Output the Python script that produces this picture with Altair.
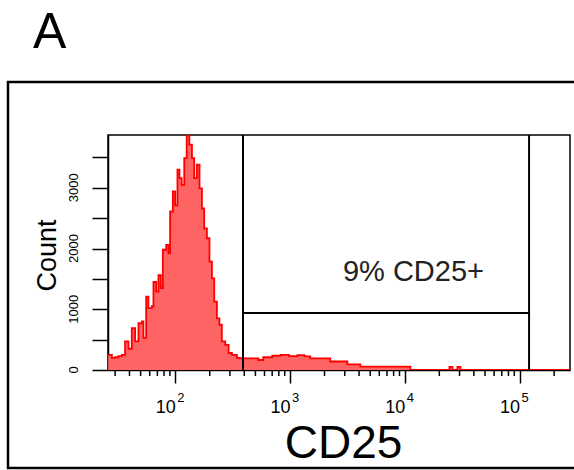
import altair as alt
import pandas as pd

# Histogram (step start positions on CD25 axis, counts)
cd25 = [26.1, 28.1, 30.0, 32.1, 34.3, 36.6, 39.2, 41.9, 44.8, 47.9,
        51.3, 52.9, 55.9, 58.5, 62.6, 64.7, 68.3, 71.5, 75.0, 78.1,
        83.5, 87.5, 90.4, 95.5, 100, 104.7, 109, 114, 120, 126,
        133, 140, 146.5, 154.5, 163, 171, 179, 189, 199, 209,
        219, 231, 243, 255, 273, 292, 312, 345, 369, 530,
        585, 701, 830, 980, 1160, 1340, 1503, 2245, 3160, 4105,
        11200, 24500, 26000, 28750, 30560, 275000]
counts = [250, 200, 210, 230, 250, 470, 350, 690, 470, 770,
          800, 530, 1210, 1020, 1050, 1450, 1290, 1560, 1350, 1980,
          2060, 1920, 2610, 2940, 2710, 3300, 3160, 3050, 3490, 3870,
          3710, 3490, 3160, 3380, 2990, 2660, 2330, 2170, 1785, 1510,
          1125, 850, 745, 470, 415, 280, 250, 200, 190, 165,
          210, 235, 250, 230, 245, 225, 190, 140, 93, 55,
          0, 50, 0, 50, 0, 0]

x_major = [100, 1000, 10000, 100000]
x_exponents = ["2", "3", "4", "5"]
x_minor = [30, 40, 50, 60, 70, 80, 90,
           200, 300, 400, 500, 600, 700, 800, 900,
           2000, 3000, 4000, 5000, 6000, 7000, 8000, 9000,
           20000, 30000, 40000, 50000, 60000, 70000, 80000, 90000,
           200000]
y_ticks = [0, 500, 1000, 1500, 2000, 2500, 3000, 3500]
y_labels = [0, 1000, 2000, 3000]

x_domain = [26, 275000]
y_domain = [0, 3870]

gate_low = 390
gate_high = 121000
gate_count = 940
gate_label = "9% CD25+"
label_x = 11900
label_y = 1615

panel_letter = "A"

W, H = 462, 235

hist = pd.DataFrame({"v": cd25, "c": counts})
xs = alt.Scale(type="log", domain=x_domain, nice=False)
ys = alt.Scale(domain=y_domain, nice=False, zero=True)

x_axis = alt.Axis(values=x_major, labelExpr="'10'", tickSize=13, tickWidth=1.5,
                  tickColor="black", domainColor="black", domainWidth=1.5,
                  labelFontSize=18, labelColor="black", labelPadding=15, labelFlush=False,
                  labelAlign="right",
                  labelOverlap=False, labelFont="Liberation Sans", grid=False,
                  title="CD25", titleFontSize=46, titleFontWeight="normal", titleFont="Liberation Sans",
                  titleColor="black", titleX=235, titleY=87, titleAlign="center",
                  titleBaseline="alphabetic")
y_axis = alt.Axis(values=y_ticks, labels=False,
                  tickSize=16, tickWidth=1.5, tickColor="black", domainColor="black",
                  domainWidth=1.5, grid=False,
                  title="Count", titleFontSize=27, titleFontWeight="normal", titleFont="Liberation Sans",
                  titleColor="black", titleAngle=270, titleX=-53, titleY=120, titleAlign="center",
                  titleBaseline="alphabetic")


def X(field):
    return alt.X(field, type="quantitative", scale=xs, axis=x_axis, title="CD25")


def Y(field):
    return alt.Y(field, type="quantitative", scale=ys, axis=y_axis, title="Count")


area = alt.Chart(hist).mark_area(interpolate="step-after", color="#FF6464", clip=True).encode(
    x=X("v"), y=Y("c"),
)
outline = alt.Chart(hist).mark_line(interpolate="step-after", color="#FF0000", strokeWidth=1.8, clip=True).encode(
    x=X("v"), y=Y("c"),
)

minor = alt.Chart(pd.DataFrame({"v": x_minor})).mark_rule(color="black", strokeWidth=1.5).encode(
    x=X("v"),
    y=alt.value(H),
    y2=alt.value(H + 6),
)

exps = alt.Chart(pd.DataFrame({"v": x_major, "e": x_exponents})).mark_text(
    fontSize=13, font="Liberation Sans", color="black", align="left", baseline="top", dx=2
).encode(x=X("v"), y=alt.value(H + 22), text="e:N")

# y tick labels, rotated, drawn as text through the y scale
ylab = alt.Chart(pd.DataFrame({"c": y_labels, "t": [str(v) for v in y_labels]})).mark_text(
    fontSize=13, font="Liberation Sans", color="black", align="center", baseline="middle", angle=270
).encode(x=alt.value(-34), y=Y("c"), text="t:N")

gates = pd.DataFrame({
    "v": [gate_low, gate_low, gate_high],
    "v2": [gate_low, gate_high, gate_high],
    "c": [y_domain[0], gate_count, y_domain[0]],
    "c2": [y_domain[1], gate_count, y_domain[1]],
})
gate_rules = alt.Chart(gates).mark_rule(color="black", strokeWidth=2).encode(
    x=X("v"), x2="v2:Q",
    y=Y("c"), y2="c2:Q",
)

gate_text = alt.Chart(pd.DataFrame({"v": [label_x], "c": [label_y], "t": [gate_label]})).mark_text(
    fontSize=29, font="Liberation Sans", color="#222222", align="center", baseline="middle"
).encode(
    x=X("v"), y=Y("c"),
    text="t:N",
)

frame = alt.Chart(pd.DataFrame({"k": [1]})).mark_rect(
    fillOpacity=0, stroke="black", strokeWidth=2.5
).encode(x=alt.value(-100), x2=alt.value(470), y=alt.value(-53), y2=alt.value(333))

letter = alt.Chart(pd.DataFrame({"t": [panel_letter]})).mark_text(
    fontSize=50, font="Liberation Sans", color="black", align="left", baseline="alphabetic"
).encode(x=alt.value(-75), y=alt.value(-87), text="t:N")

chart = alt.layer(area, outline, minor, exps, ylab, gate_rules, gate_text, frame, letter).properties(
    width=W, height=H,
    autosize=alt.AutoSizeParams(type="none"),
    padding={"left": 108, "top": 135, "right": 4, "bottom": 100},
    background="white",
).configure_view(stroke="black", strokeWidth=1.5)

chart.save("out.html", embed_options={"renderer": "svg", "actions": False})
